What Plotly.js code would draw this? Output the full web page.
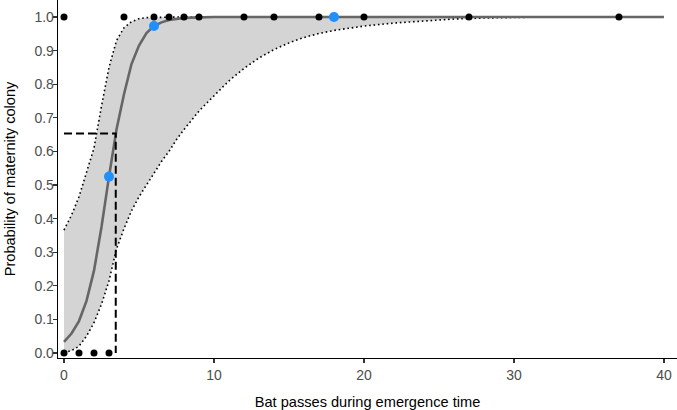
<!DOCTYPE html>
<html>
<head>
<meta charset="utf-8">
<script src="https://cdn.plot.ly/plotly-3.0.1.min.js"></script>
<style>html,body{margin:0;padding:0;background:#fff}#chart{width:677px;height:410px}</style>
</head>
<body>
<div id="chart"></div>
<script>
// Prediction grid (bat passes)
const gridX = [0,0.5,1,1.5,2,2.5,3,3.5,4,4.5,5,5.5,6,6.5,7,7.5,8,8.5,9,9.5,10,11,12,13,14,15,16,17,18,19,20,22,24,26,28,30,32,34,36,38,40];
// Fitted probability
const fitP = [0.033,0.058,0.095,0.155,0.245,0.375,0.525,0.665,0.77,0.86,0.915,0.952,0.973,0.984,0.991,0.995,0.997,0.998,0.999,1,1,1,1,1,1,1,1,1,1,1,1,1,1,1,1,1,1,1,1,1,1];
// Confidence band, lower and upper
const lowerP = [0.001,0.007,0.02,0.05,0.09,0.145,0.215,0.31,0.37,0.423,0.465,0.5,0.535,0.57,0.6,0.635,0.665,0.693,0.72,0.743,0.765,0.81,0.847,0.878,0.903,0.923,0.939,0.951,0.96,0.967,0.973,0.982,0.989,0.994,0.997,0.999,1,1,1,1,1];
const upperP = [0.366,0.41,0.465,0.535,0.61,0.735,0.85,0.93,0.968,0.986,0.995,0.998,0.999,1,1,1,1,1,1,1,1,1,1,1,1,1,1,1,1,1,1,1,1,1,1,1,1,1,1,1,1];
// Observed sites
const obsX = [0,1,2,3,0,4,6,7,8,9,12,14,17,20,27,37];
const obsY = [0,0,0,0,1,1,1,1,1,1,1,1,1,1,1,1];
// Highlighted sites
const hiX = [3,6,18];
const hiY = [0.525,0.973,1.0];
// Threshold
const thresholdX = 3.45;
const thresholdP = 0.653;
const yTicks = [0,0.1,0.2,0.3,0.4,0.5,0.6,0.7,0.8,0.9,1.0];
const xTicks = [0,10,20,30,40];
const yRange = [-0.0149, 1.0506];

const dotStyle = {color:'#000', width:1.6, dash:'1.6px,2.8px'};
const traces = [
  {x:gridX, y:lowerP, mode:'lines', line:{color:'rgba(0,0,0,0)', width:0}, hoverinfo:'skip', showlegend:false},
  {x:gridX, y:upperP, mode:'lines', fill:'tonexty', fillcolor:'#d4d4d4', line:{color:'rgba(0,0,0,0)', width:0}, hoverinfo:'skip', showlegend:false},
  {x:gridX, y:lowerP, mode:'lines', line:dotStyle, showlegend:false},
  {x:gridX, y:upperP, mode:'lines', line:dotStyle, showlegend:false},
  {x:gridX, y:fitP, mode:'lines', line:{color:'#666666', width:2.6}, showlegend:false},
  {x:[0, thresholdX, thresholdX], y:[thresholdP, thresholdP, 0], mode:'lines', line:{color:'#000', width:2, dash:'8px,4px'}, showlegend:false},
  {x:obsX, y:obsY, mode:'markers', marker:{color:'#000', size:7}, showlegend:false},
  {x:hiX, y:hiY, mode:'markers', marker:{color:'#1E90FF', size:10}, showlegend:false},
  // invisible trace to carry the tick-only overlay axis
  {x:[0], y:[0], yaxis:'y2', mode:'markers', marker:{opacity:0}, hoverinfo:'skip', showlegend:false}
];

const axFont = {family:'Liberation Sans, Arial, sans-serif', size:14, color:'#4d4d4d'};
const titleFont = {family:'Liberation Sans, Arial, sans-serif', size:14.6, color:'#000'};
const layout = {
  width:677, height:410,
  margin:{l:58, r:0, t:0, b:52},
  paper_bgcolor:'#fff', plot_bgcolor:'#fff',
  showlegend:false,
  xaxis:{
    range:[-0.4, 40.87], tickvals:xTicks, ticktext:xTicks.map(String),
    showgrid:false, zeroline:false, showline:true, linecolor:'#000', linewidth:1.3,
    ticks:'outside', ticklen:4, tickcolor:'#333', tickwidth:1.1,
    tickfont:axFont, automargin:false,
    title:{text:'Bat passes during emergence time', font:titleFont, standoff:20}
  },
  yaxis:{
    range:yRange, tickvals:yTicks, ticktext:yTicks.map(v=>v.toFixed(1)),
    showgrid:false, zeroline:false, showline:true, linecolor:'#000', linewidth:1.3,
    ticks:'', tickfont:axFont, automargin:false, ticklabelstandoff:0,
    title:{text:'Probability of maternity colony', font:titleFont, standoff:15}
  },
  yaxis2:{
    overlaying:'y', side:'left', range:yRange, tickvals:yTicks,
    showticklabels:false, showgrid:false, zeroline:false, showline:false,
    ticks:'outside', ticklen:4, tickcolor:'#333', tickwidth:1.1, automargin:false
  }
};
Plotly.newPlot('chart', traces, layout, {displayModeBar:false, staticPlot:true});
</script>
</body>
</html>
